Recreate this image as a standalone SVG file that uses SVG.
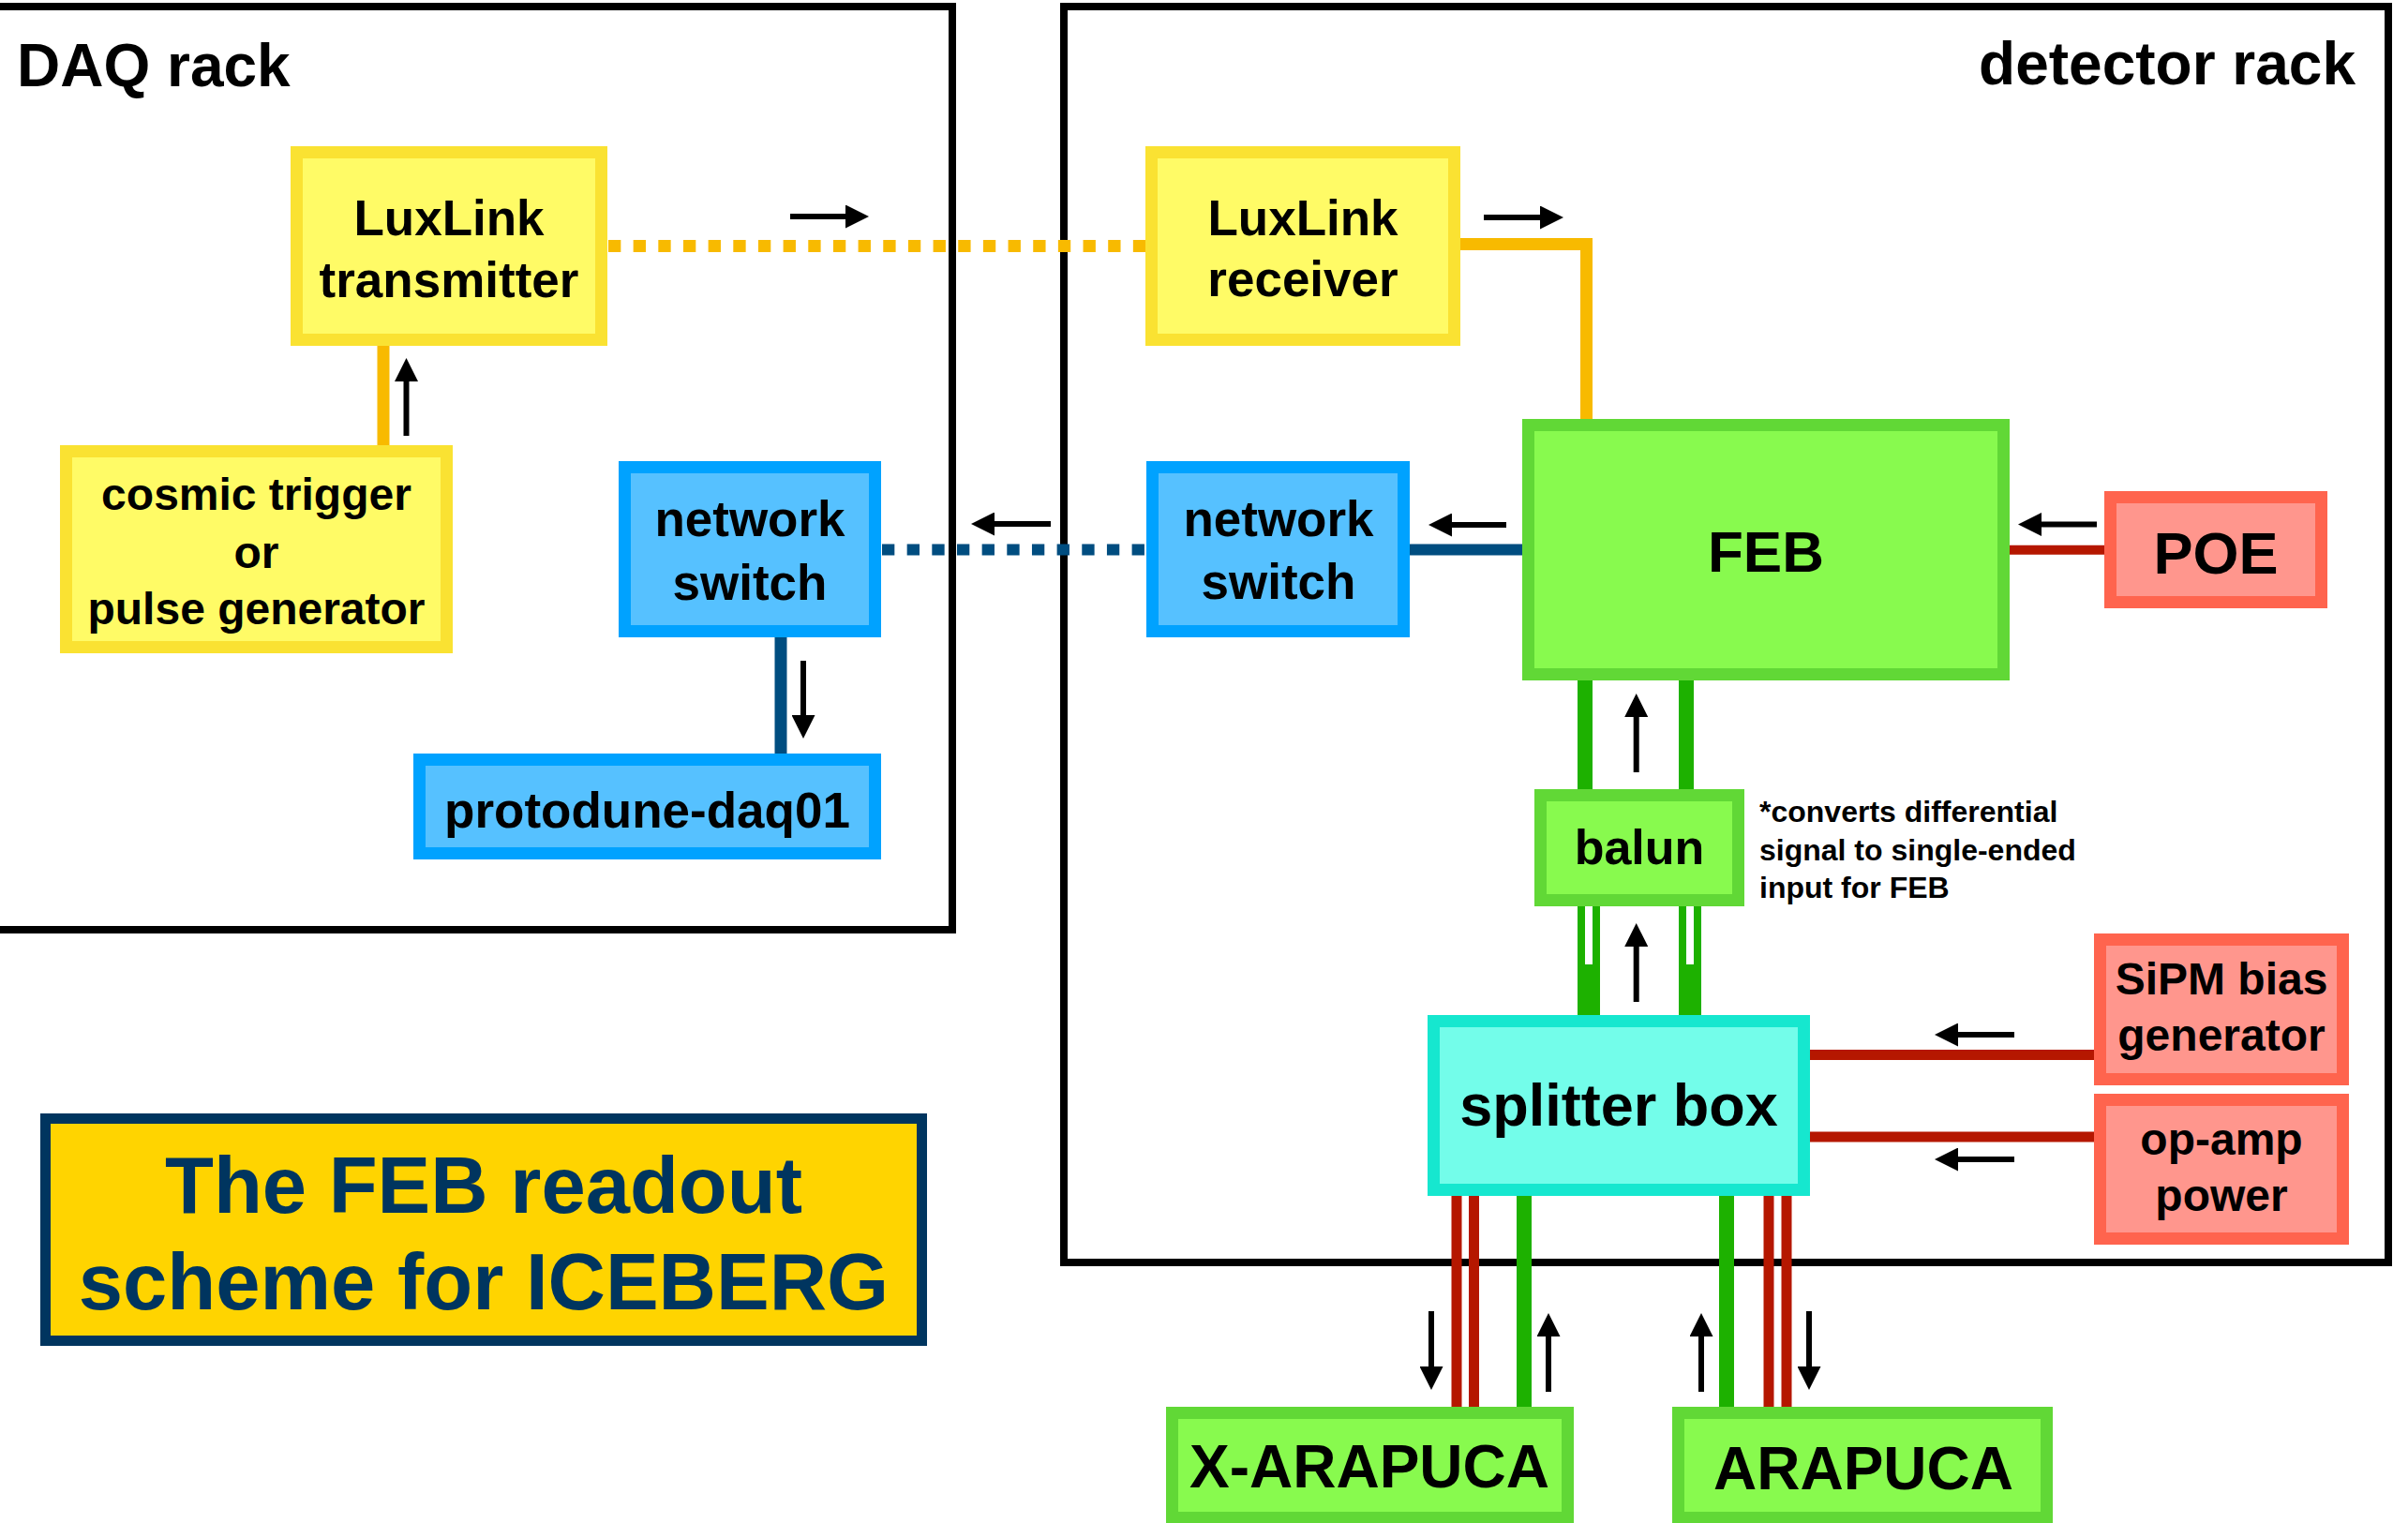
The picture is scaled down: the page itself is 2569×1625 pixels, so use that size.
<svg xmlns="http://www.w3.org/2000/svg" width="2569" height="1625" viewBox="0 0 2569 1625">
<style>
text{font-family:"Liberation Sans",Arial,Helvetica,sans-serif;font-weight:bold;fill:#000;text-anchor:middle}
.rack{fill:none;stroke:#000;stroke-width:8}
.node rect{stroke-width:13}
.yel rect{fill:#FFFB66;stroke:#FAE232}
.blu rect{fill:#56C1FF;stroke:#00A2FF}
.grn rect{fill:#88FA4E;stroke:#61D836}
.sal rect{fill:#FF968D;stroke:#FF644E}
.cyn rect{fill:#73FDEA;stroke:#16E7CF}
.c{fill:none;stroke-linecap:butt}
.or{stroke:#F8BA00;stroke-width:13}
.nv{stroke:#004D80;stroke-width:12}
.rd{stroke:#B51700;stroke-width:11}
.gr{stroke:#1DB100;stroke-width:16}
.dot{stroke-dasharray:13.33 13.33}
.arr{stroke:#000;stroke-width:6;fill:none;marker-end:url(#ah)}
.t53{font-size:53px}.t48{font-size:48px}.t62{font-size:62px}.t64{font-size:64px}
</style>
<defs>
<marker id="ah" viewBox="0 -12.5 25 25" refX="1" refY="0" markerWidth="25" markerHeight="25" markerUnits="userSpaceOnUse" orient="auto">
<path d="M0,-12.5 L25,0 L0,12.5 z" fill="#000"/>
</marker>
</defs>
<rect width="2569" height="1625" fill="#fff"/>

<g id="daq-rack">
<rect class="rack" x="-20" y="7" width="1036" height="985"/>
<text x="18" y="92" style="text-anchor:start;font-size:64px">DAQ rack</text>
</g>
<g id="detector-rack">
<rect class="rack" x="1135" y="7" width="1413" height="1340"/>
<text x="2513" y="90" style="text-anchor:end;font-size:64px">detector rack</text>
</g>

<g id="connectors">
<line class="c or" x1="409" y1="369" x2="409" y2="478"/>
<line class="c or dot" x1="649" y1="262.5" x2="1222" y2="262.5"/>
<path class="c or" d="M1558,260.5 H1692.5 V447"/>
<line class="c nv dot" x1="941" y1="586.5" x2="1224" y2="586.5"/>
<line class="c nv" x1="1504" y1="586.5" x2="1624" y2="586.5"/>
<line class="c nv" x1="833" y1="680" x2="833" y2="804" style="stroke-width:13"/>
<line class="c rd" x1="2144" y1="586.7" x2="2245" y2="586.7" style="stroke-width:10"/>
<line class="c gr" x1="1691" y1="726" x2="1691" y2="842"/>
<line class="c gr" x1="1799" y1="726" x2="1799" y2="842"/>
<rect x="1683" y="967" width="24" height="116" fill="#1DB100"/>
<rect x="1791" y="967" width="24" height="116" fill="#1DB100"/>
<rect x="1691" y="967" width="8" height="62" fill="#fff"/>
<rect x="1799" y="967" width="8" height="62" fill="#fff"/>
<line class="c rd" x1="1931" y1="1125.5" x2="2234" y2="1125.5"/>
<line class="c rd" x1="1931" y1="1213" x2="2234" y2="1213"/>
<line class="c rd" x1="1554" y1="1276" x2="1554" y2="1501"/>
<line class="c rd" x1="1572.5" y1="1276" x2="1572.5" y2="1501"/>
<line class="c gr" x1="1626" y1="1276" x2="1626" y2="1501"/>
<line class="c gr" x1="1842" y1="1276" x2="1842" y2="1501"/>
<line class="c rd" x1="1887" y1="1276" x2="1887" y2="1501"/>
<line class="c rd" x1="1906" y1="1276" x2="1906" y2="1501"/>

<line class="arr" x1="433.5" y1="465" x2="433.5" y2="406"/>
<line class="arr" x1="843" y1="231" x2="903" y2="231"/>
<line class="arr" x1="1583" y1="232" x2="1644" y2="232"/>
<line class="arr" x1="1121" y1="559" x2="1060" y2="559"/>
<line class="arr" x1="1607" y1="560" x2="1548" y2="560"/>
<line class="arr" x1="2237" y1="559.5" x2="2177" y2="559.5"/>
<line class="arr" x1="857" y1="705" x2="857" y2="764"/>
<line class="arr" x1="1745.7" y1="824" x2="1745.7" y2="764"/>
<line class="arr" x1="1745.7" y1="1069" x2="1745.7" y2="1009"/>
<line class="arr" x1="2149" y1="1104" x2="2088" y2="1104"/>
<line class="arr" x1="2149" y1="1237" x2="2088" y2="1237"/>
<line class="arr" x1="1527" y1="1399" x2="1527" y2="1459"/>
<line class="arr" x1="1652" y1="1485" x2="1652" y2="1425"/>
<line class="arr" x1="1815" y1="1485" x2="1815" y2="1425"/>
<line class="arr" x1="1930" y1="1399" x2="1930" y2="1459"/>
</g>

<g id="luxlink-transmitter" class="node yel">
<rect x="316.5" y="162.5" width="325" height="200"/>
<text class="t53" x="479" y="251">LuxLink</text>
<text class="t53" x="479" y="317">transmitter</text>
</g>
<g id="cosmic-trigger" class="node yel">
<rect x="70.5" y="481.5" width="406" height="209"/>
<text class="t48" x="273.5" y="544">cosmic trigger</text>
<text class="t48" x="273.5" y="606">or</text>
<text class="t48" x="273.5" y="666">pulse generator</text>
</g>
<g id="daq-network-switch" class="node blu">
<rect x="666.5" y="498.5" width="267" height="175"/>
<text class="t53" x="800" y="572">network</text>
<text class="t53" x="800" y="640">switch</text>
</g>
<g id="protodune-daq01" class="node blu">
<rect x="447.5" y="810.5" width="486" height="100"/>
<text class="t53" x="690.5" y="883">protodune-daq01</text>
</g>
<g id="luxlink-receiver" class="node yel">
<rect x="1228.5" y="162.5" width="323" height="200"/>
<text class="t53" x="1390" y="251">LuxLink</text>
<text class="t53" x="1390" y="316">receiver</text>
</g>
<g id="det-network-switch" class="node blu">
<rect x="1229.5" y="498.5" width="268" height="175"/>
<text class="t53" x="1364" y="572">network</text>
<text class="t53" x="1364" y="639">switch</text>
</g>
<g id="feb" class="node grn">
<rect x="1630.5" y="453.5" width="507" height="266"/>
<text class="t62" x="1884" y="610">FEB</text>
</g>
<g id="poe" class="node sal">
<rect x="2251.5" y="530.5" width="225" height="112"/>
<text x="2364" y="612" style="font-size:63px">POE</text>
</g>
<g id="balun" class="node grn">
<rect x="1643.5" y="848.5" width="211" height="112"/>
<text x="1749" y="922" style="font-size:52px">balun</text>
</g>
<g id="balun-note">
<text x="1877" y="877" style="text-anchor:start;font-size:32px">*converts differential</text>
<text x="1877" y="918" style="text-anchor:start;font-size:32px">signal to single-ended</text>
<text x="1877" y="958" style="text-anchor:start;font-size:32px">input for FEB</text>
</g>
<g id="splitter-box" class="node cyn">
<rect x="1529.5" y="1089.5" width="395" height="180"/>
<text x="1727" y="1201" style="font-size:63px">splitter box</text>
</g>
<g id="sipm-bias" class="node sal">
<rect x="2240.5" y="1002.5" width="259" height="149"/>
<text class="t48" x="2370" y="1061">SiPM bias</text>
<text class="t48" x="2370" y="1121">generator</text>
</g>
<g id="op-amp-power" class="node sal">
<rect x="2240.5" y="1173.5" width="259" height="148"/>
<text class="t48" x="2370" y="1232">op-amp</text>
<text class="t48" x="2370" y="1292">power</text>
</g>
<g id="x-arapuca" class="node grn">
<rect x="1250.5" y="1507.5" width="422" height="112"/>
<text class="t64" x="1461" y="1587">X-ARAPUCA</text>
</g>
<g id="arapuca" class="node grn">
<rect x="1790.5" y="1507.5" width="393" height="112"/>
<text class="t64" x="1988" y="1589">ARAPUCA</text>
</g>
<g id="title">
<rect x="48.5" y="1193.5" width="935" height="237" fill="#FFD400" stroke="#00355F" stroke-width="11"/>
<text x="516" y="1294" style="font-size:85px;fill:#00355F">The FEB readout</text>
<text x="516" y="1397" style="font-size:85px;fill:#00355F">scheme for ICEBERG</text>
</g>
</svg>
